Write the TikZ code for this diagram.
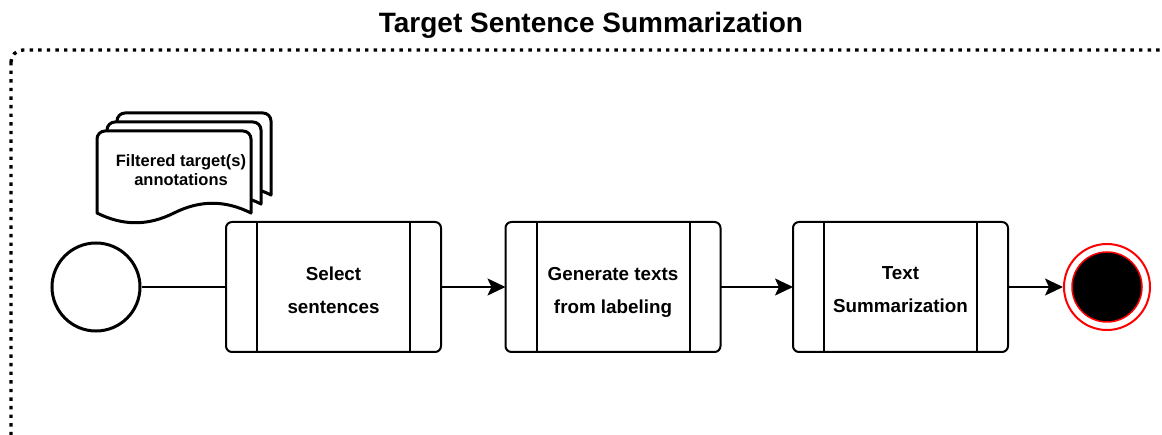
\documentclass[tikz,border=0pt]{standalone}
\usepackage{fontspec}
\setmainfont{Liberation Sans}
\usetikzlibrary{arrows.meta}
\begin{document}
\begin{tikzpicture}[x=1pt,y=-1pt,
  frame/.style={line width=3.4pt, dash pattern=on 3.4pt off 5.2pt, rounded corners=12pt},
  title/.style={font=\fontsize{28}{32}\selectfont\bfseries, anchor=base, inner sep=0pt},
  docline/.style={line width=3pt, fill=white, line join=round},
  doctext/.style={font=\fontsize{16.5}{19.5}\selectfont\bfseries, align=center, inner sep=0pt, text depth=0pt},
  task/.style={draw, line width=2pt, rounded corners=6pt, fill=white,
    minimum width=215pt, minimum height=130pt, inner sep=0pt, outer sep=0pt},
  tasktext/.style={font=\fontsize{18.8}{33}\selectfont\bfseries, align=center,
    inner sep=0pt, text depth=0pt, yshift=-3pt},
  divider/.style={line width=2pt},
  startev/.style={circle, draw, line width=3pt, minimum size=88pt, inner sep=0pt},
  endouter/.style={circle, draw=red, line width=2pt, minimum size=86pt, inner sep=0pt},
  endinner/.style={circle, draw=red, fill=black, line width=1.5pt, minimum size=70pt, inner sep=0pt},
  flow/.style={line width=2pt},
  tip/.style={-{Stealth[length=18pt, width=17pt, inset=4pt]}}
]
\useasboundingbox (0,0) rectangle (1162,435);

% dotted pool frame, running past the right and bottom edges
\begin{scope}
  \clip (0,0) rectangle (1162,435);
  \draw[frame] (11,50) rectangle (1230,520);
\end{scope}

\node[title] (title) at (591,33) {Target Sentence Summarization};

% stack of three documents, back to front
\foreach \dx/\dy in {20/-18, 10/-9, 0/0} {
  \draw[docline, shift={(97+\dx,131+\dy)}]
    (0,82) -- (0,8) .. controls (0,3.6) and (3.6,0) .. (8,0)
    -- (146,0) .. controls (150.4,0) and (154,3.6) .. (154,8)
    -- (154,82) .. controls (128,69) and (103,69) .. (77,82)
    .. controls (51,95) and (26,95) .. (0,82) -- cycle;
}
\node[doctext] (docs) at (181,170) {Filtered target(s)\\annotations};

% events and tasks
\node[startev] (start) at (96,287) {};
\node[task, label={[tasktext]center:{Select\\sentences}}] (t1) at (333.5,287) {};
\node[task, label={[tasktext]center:{Generate texts\\from labeling}}] (t2) at (613,287) {};
\node[task, label={[tasktext]center:{Text\\Summarization}}] (t3) at (900.5,287) {};
\node[endouter] (end) at (1107,287) {};
\node[endinner] (endin) at (end) {};

\foreach \t in {t1,t2,t3} {
  \draw[divider] ([xshift=31pt]\t.north west) -- ([xshift=31pt]\t.south west);
  \draw[divider] ([xshift=-31pt]\t.north east) -- ([xshift=-31pt]\t.south east);
}

% sequence flow
\draw[flow] (start) -- (t1);
\draw[flow, tip] (t1) -- (t2);
\draw[flow, tip] (t2) -- (t3);
\draw[flow, tip] (t3) -- (end);
\end{tikzpicture}
\end{document}
